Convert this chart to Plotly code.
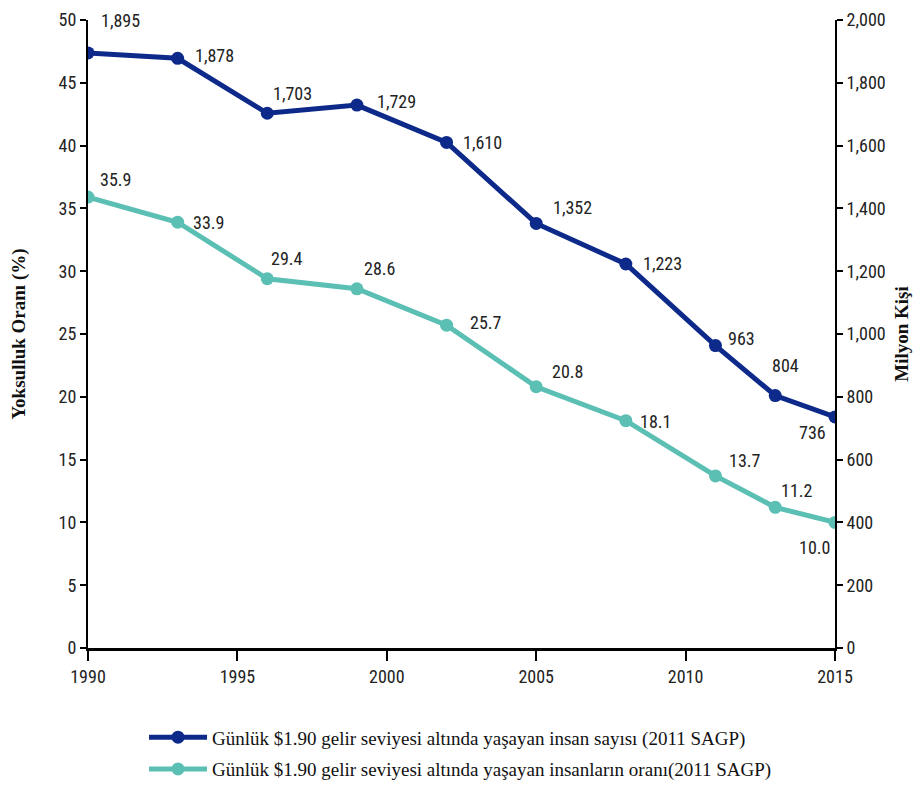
import plotly.graph_objects as go

years = [1990, 1993, 1996, 1999, 2002, 2005, 2008, 2011, 2013, 2015]
people_millions = [1895, 1878, 1703, 1729, 1610, 1352, 1223, 963, 804, 736]
poverty_rate = [35.9, 33.9, 29.4, 28.6, 25.7, 20.8, 18.1, 13.7, 11.2, 10.0]
people_labels = ["1,895", "1,878", "1,703", "1,729", "1,610", "1,352", "1,223", "963", "804", "736"]
rate_labels = ["35.9", "33.9", "29.4", "28.6", "25.7", "20.8", "18.1", "13.7", "11.2", "10.0"]

name_people = "Günlük $1.90 gelir seviyesi altında yaşayan insan sayısı (2011 SAGP)"
name_rate = "Günlük $1.90 gelir seviyesi altında yaşayan insanların oranı(2011 SAGP)"

# label offsets (pixels)
people_off = [(32, 32), (37, 3), (25, 20), (40, 4), (36, 0), (36, 16), (37, 0), (26, 7), (10, 30), (-23, -16)]
rate_off = [(27, 18), (31, 0), (20, 20), (23, 20), (39, 3), (31, 15), (30, -1), (30, 15), (22, 17), (-21, -25)]

DARK = "#0d2a8a"
TEAL = "#5bbfb4"
TICKFONT = dict(family="Liberation Sans Narrow, Arial Narrow, Roboto Condensed, sans-serif", size=18, color="#222")
SERIF = "Liberation Serif, Times New Roman, serif"

fig = go.Figure()
fig.add_trace(go.Scatter(x=years, y=people_millions, name=name_people, yaxis="y2",
                         legendgroup="a",
                         mode="lines+markers", line=dict(color=DARK, width=5),
                         marker=dict(size=13, color=DARK)))
fig.add_trace(go.Scatter(x=years, y=poverty_rate, name=name_rate, yaxis="y",
                         legendgroup="b",
                         mode="lines+markers", line=dict(color=TEAL, width=5),
                         marker=dict(size=13, color=TEAL)))

for x, y, t, (dx, dy) in zip(years, people_millions, people_labels, people_off):
    fig.add_annotation(x=x, y=y, yref="y2", text=t, showarrow=False,
                       xshift=dx, yshift=dy, font=TICKFONT)
for x, y, t, (dx, dy) in zip(years, poverty_rate, rate_labels, rate_off):
    fig.add_annotation(x=x, y=y, yref="y", text=t, showarrow=False,
                       xshift=dx, yshift=dy, font=TICKFONT)

fig.update_layout(
    width=915, height=784,
    margin=dict(l=80, r=88, t=12, b=144, autoexpand=False),
    paper_bgcolor="white", plot_bgcolor="white",
    showlegend=True,
    legend=dict(x=0.075, y=-0.112, xanchor="left", yanchor="top", orientation="v",
                font=dict(family=SERIF, size=19, color="#111"),
                traceorder="grouped",
                itemwidth=58, tracegroupgap=4),
    xaxis=dict(range=[1990, 2015], tickvals=[1990, 1995, 2000, 2005, 2010, 2015],
               automargin=False,
               showgrid=False, zeroline=False, showline=True, linecolor="black", linewidth=3,
               ticks="outside", ticklen=10, tickwidth=2, tickcolor="black",
               tickfont=TICKFONT),
    yaxis=dict(range=[0, 50], dtick=5, showgrid=False, zeroline=False, automargin=False,
               showline=True, linecolor="black", linewidth=2,
               ticks="outside", ticklen=6, tickwidth=2, tickcolor="black",
               tickfont=TICKFONT,
               title=dict(text="<b>Yoksulluk Oranı (%)</b>", standoff=30,
                          font=dict(family=SERIF, size=19, color="#111"))),
    yaxis2=dict(range=[0, 2000], dtick=200, overlaying="y", side="right", anchor="x",
                automargin=False,
                showgrid=False, zeroline=False, showline=True, linecolor="black", linewidth=2,
                ticks="outside", ticklen=6, tickwidth=2, tickcolor="black",
                tickformat=",d", tickfont=TICKFONT,
                title=dict(text="<b>Milyon Kişi</b>", standoff=10,
                           font=dict(family=SERIF, size=19, color="#111"))),
)

fig.write_html("out.html")
